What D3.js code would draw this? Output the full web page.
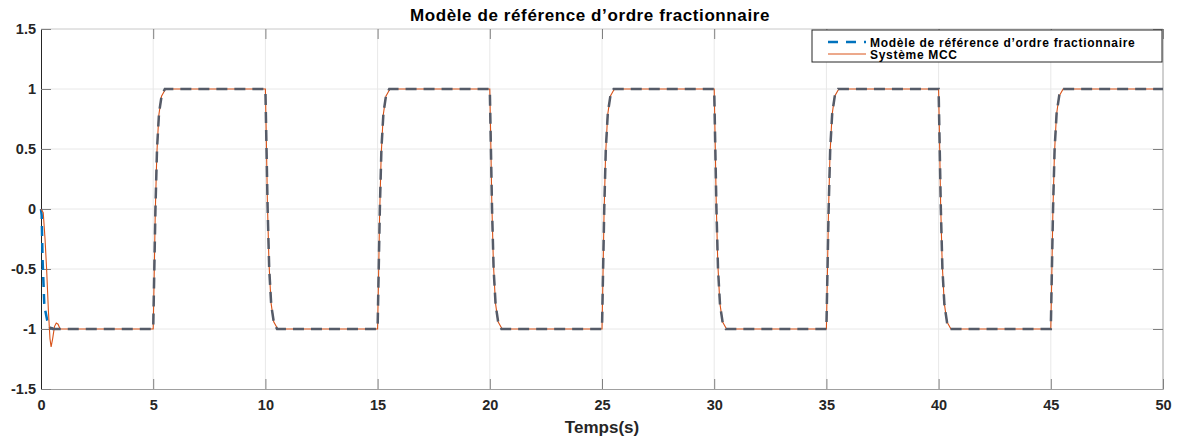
<!DOCTYPE html>
<html>
<head>
<meta charset="utf-8">
<script src="https://cdn.jsdelivr.net/npm/d3@7"></script>
<style>
  body { margin: 0; background: #fff; }
  svg { font-family: "Liberation Sans", Arial, sans-serif; font-weight: bold; }
  .tick text { fill: #262626; font-size: 14.5px; font-weight: bold; }
</style>
</head>
<body>
<div id="chart"></div>
<script>
// ticks
const xTicks = [0, 5, 10, 15, 20, 25, 30, 35, 40, 45, 50];
const yTicks = [-1.5, -1, -0.5, 0, 0.5, 1, 1.5];

// model start (blue part)
const modelStart = [[0, 0], [0.03, -0.05], [0.07, -0.42], [0.15, -0.81], [0.28, -0.93], [0.4, -0.99], [0.55, -1]];

// model response after start (drawn in dark gray dashes)
const modelRest = [
    [0.4, -0.99], [0.55, -1],
    [5, -1], [5.05, -0.5], [5.1, 0], [5.17, 0.5], [5.26, 0.8], [5.38, 0.95], [5.52, 1],
    [10, 1], [10.05, 0.5], [10.1, 0], [10.17, -0.5], [10.26, -0.8], [10.38, -0.95], [10.52, -1],
    [15, -1], [15.05, -0.5], [15.1, 0], [15.17, 0.5], [15.26, 0.8], [15.38, 0.95], [15.52, 1],
    [20, 1], [20.05, 0.5], [20.1, 0], [20.17, -0.5], [20.26, -0.8], [20.38, -0.95], [20.52, -1],
    [25, -1], [25.05, -0.5], [25.1, 0], [25.17, 0.5], [25.26, 0.8], [25.38, 0.95], [25.52, 1],
    [30, 1], [30.05, 0.5], [30.1, 0], [30.17, -0.5], [30.26, -0.8], [30.38, -0.95], [30.52, -1],
    [35, -1], [35.05, -0.5], [35.1, 0], [35.17, 0.5], [35.26, 0.8], [35.38, 0.95], [35.52, 1],
    [40, 1], [40.05, 0.5], [40.1, 0], [40.17, -0.5], [40.26, -0.8], [40.38, -0.95], [40.52, -1],
    [45, -1], [45.05, -0.5], [45.1, 0], [45.17, 0.5], [45.26, 0.8], [45.38, 0.95], [45.52, 1],
    [50, 1]
];

// Systeme MCC (orange)
const mcc = [
    [0, 0], [0.1, -0.03], [0.18, -0.25], [0.25, -0.5], [0.33, -0.85], [0.4, -1.08], [0.45, -1.15],
    [0.52, -1.08], [0.6, -0.98], [0.68, -0.95], [0.76, -0.96], [0.85, -1], [1, -1],
    [5, -1], [5.04, -0.6], [5.09, -0.05], [5.16, 0.45], [5.25, 0.78], [5.37, 0.94], [5.55, 1],
    [10, 1], [10.04, 0.6], [10.09, 0.05], [10.16, -0.45], [10.25, -0.78], [10.37, -0.94], [10.55, -1],
    [15, -1], [15.04, -0.6], [15.09, -0.05], [15.16, 0.45], [15.25, 0.78], [15.37, 0.94], [15.55, 1],
    [20, 1], [20.04, 0.6], [20.09, 0.05], [20.16, -0.45], [20.25, -0.78], [20.37, -0.94], [20.55, -1],
    [25, -1], [25.04, -0.6], [25.09, -0.05], [25.16, 0.45], [25.25, 0.78], [25.37, 0.94], [25.55, 1],
    [30, 1], [30.04, 0.6], [30.09, 0.05], [30.16, -0.45], [30.25, -0.78], [30.37, -0.94], [30.55, -1],
    [35, -1], [35.04, -0.6], [35.09, -0.05], [35.16, 0.45], [35.25, 0.78], [35.37, 0.94], [35.55, 1],
    [40, 1], [40.04, 0.6], [40.09, 0.05], [40.16, -0.45], [40.25, -0.78], [40.37, -0.94], [40.55, -1],
    [45, -1], [45.04, -0.6], [45.09, -0.05], [45.16, 0.45], [45.25, 0.78], [45.37, 0.94], [45.55, 1],
    [50, 1]
];

const titleText = "Modèle de référence d’ordre fractionnaire";
const legendLabels = ["Modèle de référence d’ordre fractionnaire", "Système MCC"];

// dimensions
const W = 1178, H = 439;
const mLeft = 41, mRight = 1163, mTop = 29, mBottom = 389;

const svg = d3.select("#chart").append("svg").attr("width", W).attr("height", H);

const x = d3.scaleLinear().domain([0, 50]).range([mLeft, mRight]);
const y = d3.scaleLinear().domain([-1.5, 1.5]).range([mBottom, mTop]);

// grid
svg.append("g").selectAll("line").data(xTicks.slice(1, -1)).enter().append("line")
    .attr("x1", d => x(d)).attr("x2", d => x(d)).attr("y1", mTop).attr("y2", mBottom)
    .attr("stroke", "#e8e8e8").attr("stroke-width", 1);
svg.append("g").selectAll("line").data(yTicks.slice(1, -1)).enter().append("line")
    .attr("x1", mLeft).attr("x2", mRight).attr("y1", d => y(d)).attr("y2", d => y(d))
    .attr("stroke", "#e8e8e8").attr("stroke-width", 1);

// box top / right
svg.append("line").attr("x1", mLeft).attr("x2", mRight).attr("y1", mTop).attr("y2", mTop).attr("stroke", "#c8c8c8");
svg.append("line").attr("x1", mRight).attr("x2", mRight).attr("y1", mTop).attr("y2", mBottom).attr("stroke", "#a0a0a0");

// top and right ticks (inward)
svg.append("g").attr("transform", "translate(0," + mTop + ")")
    .call(d3.axisTop(x).tickValues(xTicks).tickSize(-10).tickFormat(""))
    .call(g => g.select(".domain").remove())
    .selectAll("line").attr("stroke", "#808080");
svg.append("g").attr("transform", "translate(" + mRight + ",0)")
    .call(d3.axisRight(y).tickValues(yTicks).tickSize(-10).tickFormat(""))
    .call(g => g.select(".domain").remove())
    .selectAll("line").attr("stroke", "#808080");

// bottom axis
const xAxisG = svg.append("g").attr("transform", "translate(0," + mBottom + ")")
    .call(d3.axisBottom(x).tickValues(xTicks).tickSize(-10).tickPadding(11).tickFormat(d => String(d)));
xAxisG.select(".domain").attr("stroke", "#a0a0a0");
xAxisG.selectAll(".tick line").attr("stroke", "#808080");

// left axis
const yAxisG = svg.append("g").attr("transform", "translate(" + mLeft + ",0)")
    .call(d3.axisLeft(y).tickValues(yTicks).tickSize(-10).tickPadding(5).tickFormat(d => String(d)));
yAxisG.select(".domain").attr("stroke", "#262626");
yAxisG.selectAll(".tick line").attr("stroke", "#808080");

// lines
const line = d3.line().x(d => x(d[0])).y(d => y(d[1]));

svg.append("path").datum(modelStart).attr("d", line)
    .attr("fill", "none").attr("stroke", "#0072BD").attr("stroke-width", 2.5)
    .attr("stroke-dasharray", "10,7");

svg.append("path").datum(mcc).attr("d", line)
    .attr("fill", "none").attr("stroke", "#D95319").attr("stroke-width", 1.1);

svg.append("path").datum(modelRest).attr("d", line)
    .attr("fill", "none").attr("stroke", "#555b68").attr("stroke-width", 2.5)
    .attr("stroke-dasharray", "11,7");

// title
svg.append("text").attr("x", 590).attr("y", 21)
    .attr("text-anchor", "middle").attr("font-size", "17px").attr("letter-spacing", "0.6px")
    .attr("fill", "#000")
    .text(titleText);

// x label
svg.append("text").attr("x", (mLeft + mRight) / 2).attr("y", 433)
    .attr("text-anchor", "middle").attr("font-size", "17px").attr("fill", "#262626")
    .text("Temps(s)");

// legend
const lg = svg.append("g");
lg.append("rect").attr("x", 812).attr("y", 30).attr("width", 350).attr("height", 32)
    .attr("fill", "#fff").attr("stroke", "#262626").attr("stroke-width", 1);
lg.append("line").attr("x1", 828).attr("x2", 866).attr("y1", 42).attr("y2", 42)
    .attr("stroke", "#0072BD").attr("stroke-width", 2.5).attr("stroke-dasharray", "10,8");
lg.append("line").attr("x1", 828).attr("x2", 866).attr("y1", 54).attr("y2", 54)
    .attr("stroke", "#D95319").attr("stroke-width", 1);
lg.selectAll("text.lab").data(legendLabels).enter().append("text").attr("class", "lab")
    .attr("x", 870).attr("y", (d, i) => 46.5 + i * 12.5)
    .attr("font-size", "12px").attr("letter-spacing", "0.7px").attr("fill", "#000")
    .text(d => d);
</script>
</body>
</html>
